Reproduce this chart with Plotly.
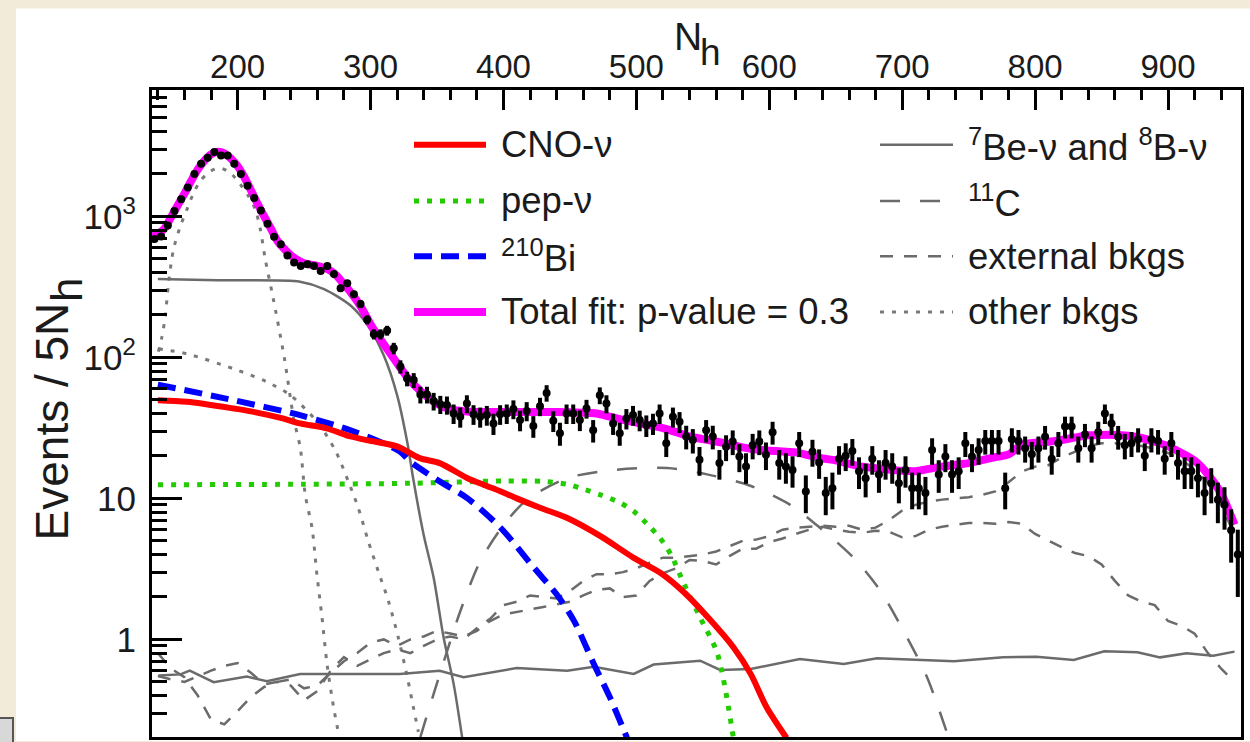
import numpy as np
import plotly.graph_objects as go

# ---------------- data ----------------
# N_h bin centres (5 N_h wide bins)
nh_bins = np.arange(137.5, 955.0, 5.0)

# events per 5 N_h bin
events = [
    690, 720, 860, 1090, 1320, 1600, 2000, 2360, 2600, 2860,
    2700, 2700, 2360, 2000, 1650, 1350, 1100, 885, 718, 633,
    528, 470, 445, 458, 445, 410, 445, 390, 309, 335,
    280, 239, 185, 146, 146, 155, 116, 86, 70.7, 69,
    54.5, 54.5, 49, 46.5, 46, 40, 37.9, 47, 39.5, 37.9,
    39, 34, 39.5, 40, 43, 35.9, 41.7, 32.6, 45, 56,
    35.5, 29, 40, 40, 36, 43.4, 30.4, 53.9, 47, 34,
    29, 36.9, 39, 35.9, 33, 34, 40, 24.6, 37.9, 35,
    27.5, 25.9, 18.8, 30.4, 27.5, 17.8, 23.2, 25.3, 19.8, 16.8,
    23.8, 25.3, 20.4, 29.5, 17.8, 16.8, 15.9, 24.6, 11.2, 21.4,
    18.0, 10.9, 11.8, 19.1, 20.1, 21.7, 15.6, 13.9, 19.1, 14.8,
    17.8, 16.8, 12.8, 15.9, 11.8, 11.8, 10.9, 22.0, 14.8, 19.8,
    14.8, 15.6, 24.6, 19.8, 22.0, 25.5, 25.5, 25.5, 11.8, 26.3,
    25.5, 22.7, 20.6, 22.7, 27.4, 19.1, 24.6, 32.3, 32.3, 22.7,
    28.4, 22.7, 29.5, 40, 34, 27.4, 23.8, 24.6, 26.3, 20.1,
    26.3, 25.5, 19.1, 24.6, 17.8, 15.6, 15.6, 13.9, 10.9, 12.8,
    9.8, 9.0, 5.94, 4.0,
]
events_err = np.sqrt(np.array(events))  # Poisson uncertainty

# total fit
total_nh = [136, 140, 145, 150, 155, 160, 165, 170, 175, 180, 185, 190, 195, 200,
            205, 210, 215, 220, 225, 230, 235, 240, 245, 250, 255, 260, 265, 270,
            275, 280, 285, 290, 295, 300, 305, 310, 315, 320, 325, 330, 335, 340,
            345, 350, 355, 360, 365, 370, 380, 400, 420, 440, 460,
            470, 480, 490, 500, 510, 520, 530, 540, 550, 560, 570, 580, 590, 600,
            610, 620, 630, 640, 650, 660, 670, 680, 690, 700, 710, 720, 730, 740,
            750, 760, 770, 780, 790, 800, 810, 820, 830, 840, 850, 860, 870, 880,
            890, 900, 910, 920, 930, 940, 950]
total_fit = [720, 750, 820, 990, 1200, 1450, 1780, 2150, 2480, 2750, 2870, 2800, 2570, 2270,
             1900, 1530, 1230, 1000, 820, 670, 590, 530, 490, 465, 455, 445, 432, 410,
             375, 330, 290, 250, 210, 172, 145, 124, 106, 91, 78, 68, 61, 55,
             50.5, 47, 44.5, 43, 42, 41.5, 41, 41, 41, 41, 40.5,
             40, 38, 36, 34.5, 33, 31.5, 29.5, 27.5, 26.3, 25.3, 24.2, 23, 22.2, 21.8,
             21.5, 21.2, 20.2, 19.2, 18.6, 17.6, 16.8, 16.4, 16.0, 15.7, 15.6, 16.2, 16.8, 17.3,
             17.8, 18.7, 19.6, 20.5, 24, 24.8, 25.2, 26, 27, 28, 28.2, 28.2, 27.8, 26.8,
             25.2, 23.5, 21.0, 18.5, 14.8, 10.8, 6.5]

# CNO neutrinos
cno_nh = [140, 162, 197, 210, 234, 247, 267, 285, 298, 320, 337, 352, 373, 385,
          398, 410, 428, 448, 473, 498, 518, 536, 556, 573, 586, 598, 613]
cno = [49.7, 48.4, 43.4, 41.4, 36.9, 34.0, 31.4, 27.5, 25.8, 23.4, 19.3, 17.8, 13.9, 12.5,
       11.2, 10.0, 8.55, 7.26, 5.40, 3.79, 2.97, 2.15, 1.36, 0.88, 0.57, 0.33, 0.2]

# pep neutrinos
pep_nh = [140, 250, 330, 400, 430, 448, 458, 473, 488, 498, 508, 518, 526, 536, 548, 561, 573]
pep = [12.5, 12.6, 12.8, 13.3, 13.2, 12.6, 11.8, 10.6, 9.3, 8.1, 6.6, 5.2, 4.0, 2.46, 1.43, 0.79, 0.2]

# 210Bi
bi_nh = [140, 197, 247, 285, 322, 330, 352, 373, 398, 423, 440, 453, 468, 480, 493]
bi210 = [64, 49.7, 38.9, 30.4, 21.5, 18.2, 13.2, 10.0, 6.17, 3.22, 2.09, 1.36, 0.67, 0.39, 0.2]

# 7Be neutrinos
be7_nh = [140, 185, 247, 265, 285, 298, 310, 320, 328, 332, 340, 347.5, 355, 362.6, 369]
be7 = [360, 352, 344, 305, 233, 168, 103, 54, 24, 14, 5.5, 2.74, 1.03, 0.48, 0.2]

# 8B neutrinos
b8_nh = [140.6, 157, 164, 182, 207, 222, 247, 272, 297, 322, 352, 370, 410, 448, 468, 498,
         513, 548, 563, 586, 623, 656, 681, 714, 739, 776, 801, 829, 852, 877, 894, 914,
         934, 950]
b8 = [0.554, 0.565, 0.60, 0.497, 0.545, 0.505, 0.569, 0.569, 0.569, 0.569, 0.60, 0.539,
      0.627, 0.60, 0.641, 0.569, 0.663, 0.707, 0.607, 0.617, 0.726, 0.669, 0.734, 0.715,
      0.70, 0.746, 0.755, 0.715, 0.823, 0.81, 0.746, 0.797, 0.767, 0.819]

# 11C
c11_nh = [337.5, 347.5, 367.6, 382.6, 400.4, 417.7, 447.8, 482.9, 523.1, 553.2, 585.7,
          615.8, 638.3, 663.5, 683.6, 703.7, 718.7, 735]
c11 = [0.203, 0.411, 1.59, 3.59, 6.52, 9.79, 13.9, 15.9, 16.4, 14.8, 12.3,
       9.0, 6.17, 3.79, 2.21, 1.03, 0.539, 0.2]

# external backgrounds
ext_nh = list(range(140, 951, 10))
ext_a = [0.55, 0.52, 0.50, 0.55, 0.60, 0.65, 0.68, 0.58, 0.48, 0.50,
         0.47, 0.37, 0.43, 0.60, 0.75, 0.65, 0.72, 0.80, 0.85, 0.80,
         0.90, 1.00, 1.05, 1.00, 1.20, 1.40, 1.75, 1.85, 2.05, 2.00,
         1.95, 2.20, 2.60, 2.90, 2.90, 3.00, 3.20, 3.50, 3.80, 3.80,
         3.90, 4.00, 4.20, 4.60, 5.00, 5.10, 5.40, 6.00, 6.20, 6.30,
         6.40, 6.30, 6.40, 6.00, 6.20, 7.00, 8.20, 9.00, 9.50, 9.80,
         10.0, 10.2, 10.6, 11.2, 13.0, 15.5, 16.8, 17.2, 19.5, 21.5,
         23.5, 24.6, 24.6, 24.0, 23.5, 22.5, 21.0, 18.8, 16.0, 13.0,
         9.0, 5.5]
ext_b = [0.80, 0.62, 0.54, 0.40, 0.27, 0.25, 0.31, 0.39, 0.46, 0.50,
         0.52, 0.45, 0.47, 0.58, 0.70, 0.80, 0.95, 1.00, 0.90, 1.00,
         1.05, 1.15, 1.10, 1.05, 1.15, 1.35, 1.50, 1.57, 1.63, 1.70,
         1.77, 1.85, 2.05, 2.25, 2.30, 2.00, 2.05, 2.60, 2.95, 3.20,
         3.65, 3.60, 3.40, 3.90, 4.40, 4.40, 4.90, 5.20, 5.60, 6.00,
         6.30, 6.00, 5.80, 5.70, 5.90, 5.80, 5.30, 5.40, 6.00, 6.30,
         6.50, 6.70, 6.70, 6.60, 6.80, 6.60, 5.60, 5.00, 4.50, 4.10,
         3.90, 3.40, 2.60, 2.05, 1.85, 1.75, 1.35, 1.25, 1.10, 0.80,
         0.62, 0.50]

# other backgrounds
po_nh = [140.4, 143.1, 145.6, 148.1, 151.8, 156.9, 161.9, 166.9, 171.9, 179.5, 187, 194.5,
         202, 208, 213.3, 217.1, 220.8, 226.9, 235.1, 242.2, 247.2, 250.9, 256, 259.7,
         263.5, 267.3, 272.2, 276]
po210 = [110, 140, 197, 339, 585, 850, 1120, 1468, 1780, 2090, 2200, 2030,
         1690, 1400, 1120, 809, 497, 259, 100, 36.9, 22.7, 10.6, 6.17, 2.87,
         1.43, 0.666, 0.331, 0.214]
kr_nh = [140.6, 161.9, 197, 222.1, 239.7, 259.7, 273.5, 283.3, 290.8, 298.3, 305.8, 313.4,
         320.9, 327.7, 332.2, 336]
kr85 = [115, 106, 83, 67, 53.9, 35, 21.9, 13.2, 8.55, 4.98, 3.05, 1.88,
        1.03, 0.539, 0.331, 0.221]

# axis ticks
x_ticks = [200, 300, 400, 500, 600, 700, 800, 900]
y_ticks = [1, 10, 100, 1000]
y_tick_text = ["1", "10", "10<sup>2</sup>", "10<sup>3</sup>"]
y_minor = [m * 10.0 ** e for e in range(-1, 4) for m in range(2, 10)]

# ---------------- styles ----------------
GRAY = "#6b6b6b"
DOT_GRAY = "#7a7a7a"
styles = {
    "cno": dict(color="#ff0000", width=6, dash="solid"),
    "pep": dict(color="#22cc00", width=5, dash="5px,8px"),
    "bi": dict(color="#0000ff", width=6, dash="18px,9px"),
    "total": dict(color="#ff00ff", width=8, dash="solid"),
    "solar": dict(color=GRAY, width=2.5, dash="solid"),
    "c11": dict(color=GRAY, width=2.5, dash="20px,20px"),
    "ext": dict(color=GRAY, width=2.5, dash="13px,11px"),
    "other": dict(color=DOT_GRAY, width=3, dash="4px,8px"),
}

fig = go.Figure()


def add_curve(x, y, style, shape="spline"):
    fig.add_trace(go.Scatter(
        x=x, y=y, mode="lines", line=dict(shape=shape, smoothing=0.8, **style),
        showlegend=False, hoverinfo="skip"))


# background components
add_curve(po_nh, po210, styles["other"])
add_curve(kr_nh, kr85, styles["other"])
add_curve(ext_nh, ext_a, styles["ext"], shape="linear")
add_curve(ext_nh, ext_b, styles["ext"], shape="linear")
add_curve(c11_nh, c11, styles["c11"])
add_curve(be7_nh, be7, styles["solar"])
add_curve(b8_nh, b8, styles["solar"], shape="linear")
# solar signals
add_curve(pep_nh, pep, styles["pep"])
add_curve(bi_nh, bi210, styles["bi"])
add_curve(cno_nh, cno, styles["cno"])
add_curve(total_nh, total_fit, styles["total"])

# data with error bars
fig.add_trace(go.Scatter(
    x=nh_bins, y=events, mode="markers",
    marker=dict(color="black", size=8),
    error_y=dict(type="data", array=events_err, color="black", thickness=4, width=0),
    showlegend=False, hoverinfo="skip"))

# ---------------- layout ----------------
L, R, T, B = 152, 9, 90, 2
W, H = 1250, 742
PW, PH = W - L - R, H - T - B


def px_x(px):
    return (px - L) / PW


def px_y(py):
    return (H - B - py) / PH


TXT = "#1b1b1b"
FONT = "Liberation Sans, Arial, Helvetica, sans-serif"

fig.update_layout(
    width=W, height=H,
    margin=dict(l=L, r=R, t=T, b=B, pad=0),
    paper_bgcolor="#f3ebda",
    plot_bgcolor="white",
    showlegend=False,
    font=dict(family=FONT, color=TXT),
    xaxis=dict(
        range=[135.6, 954.9], side="top", tickmode="array", tickvals=x_ticks,
        showline=True, linecolor="black", linewidth=3, mirror=True,
        ticks="inside", ticklen=20, tickwidth=3, tickcolor="black",
        tickfont=dict(size=33, family=FONT, color=TXT), ticklabelstandoff=-4,
        minor=dict(ticks="inside", ticklen=10, tickwidth=3, tickcolor="black",
                   tickmode="linear", tick0=0, dtick=20),
        showgrid=False, zeroline=False,
    ),
    yaxis=dict(
        type="log", range=[-0.692, 3.896], tickmode="array",
        tickvals=y_ticks, ticktext=y_tick_text,
        showline=True, linecolor="black", linewidth=3, mirror=True,
        ticks="inside", ticklen=30, tickwidth=3, tickcolor="black",
        tickfont=dict(size=35, family=FONT, color=TXT), ticklabelstandoff=6,
        minor=dict(ticks="inside", ticklen=15, tickwidth=3, tickcolor="black",
                   tickmode="array", tickvals=y_minor),
        showgrid=False, zeroline=False,
    ),
)

shapes = [
    # white page panel behind the chart
    dict(type="rect", xref="paper", yref="paper", layer="below",
         x0=px_x(16), x1=px_x(1252), y0=px_y(744), y1=px_y(8),
         fillcolor="white", line=dict(width=0)),
    dict(type="rect", xref="paper", yref="paper",
         x0=px_x(-4), x1=px_x(13), y0=px_y(746), y1=px_y(721),
         fillcolor="#d8d8d8", line=dict(color="#555555", width=2)),
]

annotations = []

# axis titles
annotations.append(dict(text="N", x=px_x(687.5), y=px_y(36.5), xref="paper", yref="paper",
                        showarrow=False, font=dict(size=39, family=FONT, color=TXT),
                        xanchor="center", yanchor="middle"))
annotations.append(dict(text="h", x=px_x(710), y=px_y(52), xref="paper", yref="paper",
                        showarrow=False, font=dict(size=37, family=FONT, color=TXT),
                        xanchor="center", yanchor="middle"))
annotations.append(dict(text="Events / 5N", x=px_x(52), y=px_y(423), xref="paper", yref="paper",
                        showarrow=False, textangle=-90,
                        font=dict(size=46, family=FONT, color=TXT),
                        xanchor="center", yanchor="middle"))
annotations.append(dict(text="h", x=px_x(66), y=px_y(291), xref="paper", yref="paper",
                        showarrow=False, textangle=-90,
                        font=dict(size=44, family=FONT, color=TXT),
                        xanchor="center", yanchor="middle"))

# legend
legend_rows = [145, 201.5, 257, 313]
left_items = [("CNO-ν", "cno"), ("pep-ν", "pep"), ("<sup>210</sup>Bi", "bi"),
              ("Total fit: p-value = 0.3", "total")]
right_items = [("<sup>7</sup>Be-ν and <sup>8</sup>B-ν", "solar"), ("<sup>11</sup>C", "c11"),
               ("external bkgs", "ext"), ("other bkgs", "other")]

for (label, key), row in zip(left_items, legend_rows):
    st = styles[key]
    shapes.append(dict(type="line", xref="paper", yref="paper",
                       x0=px_x(414), x1=px_x(486), y0=px_y(row), y1=px_y(row),
                       line=dict(color=st["color"], width=st["width"], dash=st["dash"])))
    annotations.append(dict(text=label, x=px_x(499), y=px_y(row), xref="paper", yref="paper",
                            showarrow=False, xanchor="left", yanchor="middle",
                            font=dict(size=36.5, family=FONT, color=TXT)))

for (label, key), row in zip(right_items, legend_rows):
    st = styles[key]
    shapes.append(dict(type="line", xref="paper", yref="paper",
                       x0=px_x(880), x1=px_x(953), y0=px_y(row), y1=px_y(row),
                       line=dict(color=st["color"], width=st["width"], dash=st["dash"])))
    annotations.append(dict(text=label, x=px_x(966), y=px_y(row), xref="paper", yref="paper",
                            showarrow=False, xanchor="left", yanchor="middle",
                            font=dict(size=36.5, family=FONT, color=TXT)))

fig.update_layout(shapes=shapes, annotations=annotations)

fig.write_html("out.html")
